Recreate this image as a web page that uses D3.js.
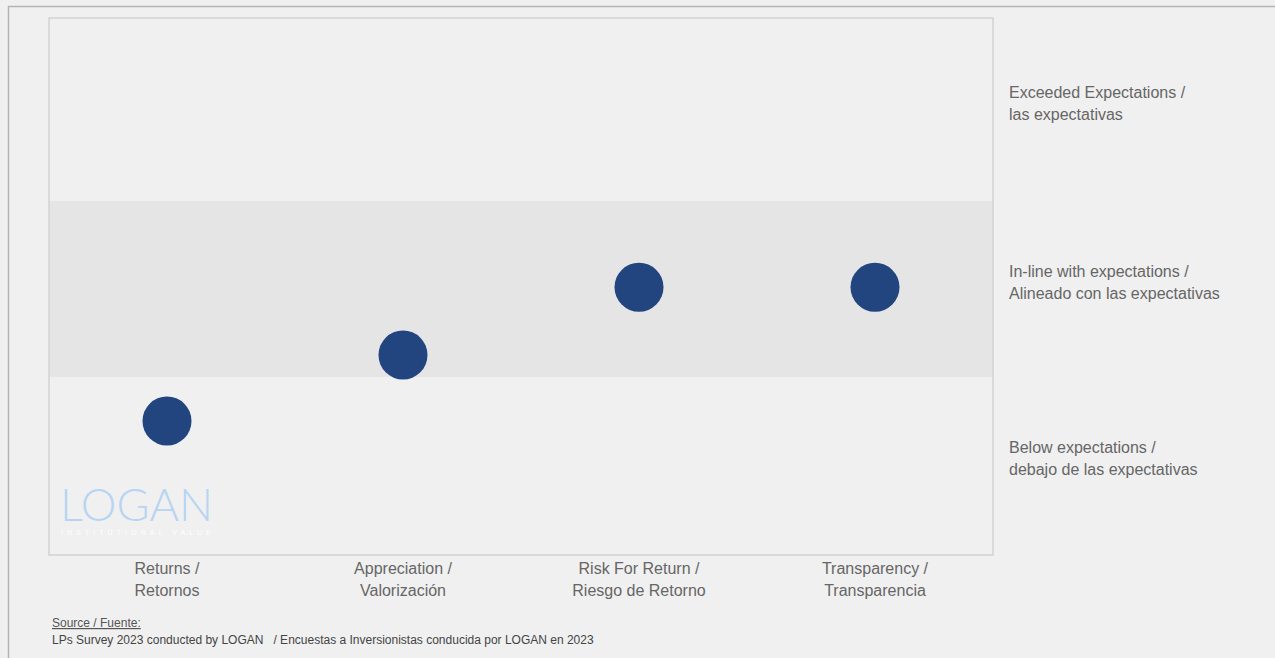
<!DOCTYPE html>
<html>
<head>
<meta charset="utf-8">
<script src="https://cdn.jsdelivr.net/npm/d3@7"></script>
<style>
  body { margin: 0; background: #f0f0f0; }
  svg { display: block; font-family: "Liberation Sans", Arial, sans-serif; }
</style>
</head>
<body>
<div id="chart"></div>
<script>
"use strict";

// categories on the x axis (two lines each)
var categories = ["Returns", "Appreciation", "Risk For Return", "Transparency"];
var categoryLabels = [
  ["Returns /", "Retornos"],
  ["Appreciation /", "Valorización"],
  ["Risk For Return /", "Riesgo de Retorno"],
  ["Transparency /", "Transparencia"]
];
// score: 0-1 below, 1-2 in line, 2-3 exceeded
var scores = [0.75, 1.125, 1.51, 1.51];

// bands (bottom to top)
var bandStarts = [0, 1, 2];
var bandLabels = [
  ["Below expectations /", "debajo de las expectativas"],
  ["In-line with expectations /", "Alineado con las expectativas"],
  ["Exceeded Expectations /", "las expectativas"]
];

var W = 1275, H = 658;
var margin = { top: 18, right: 282, bottom: 103, left: 49 };
var width = W - margin.left - margin.right,
    height = H - margin.top - margin.bottom;

var svg = d3.select("#chart").append("svg")
  .attr("width", W)
  .attr("height", H);

// outer frame
svg.append("line").attr("x1", 8).attr("x2", W).attr("y1", 6.5).attr("y2", 6.5)
  .attr("stroke", "#b4b4b4").attr("stroke-width", 1.5);
svg.append("line").attr("x1", 8.5).attr("x2", 8.5).attr("y1", 6).attr("y2", H)
  .attr("stroke", "#b4b4b4").attr("stroke-width", 1.5);

var g = svg.append("g")
  .attr("transform", "translate(" + margin.left + "," + margin.top + ")");

var x = d3.scalePoint().domain(categories).range([0, width]).padding(0.5);
// middle band edges set the scale; the outer bands run to the frame
var y = d3.scaleLinear().domain([1, 2]).range([359, 183]);

function clampY(v) { return Math.max(0, Math.min(height, y(v))); }

// bands
g.selectAll("rect.band")
  .data(bandStarts)
  .enter().append("rect")
  .attr("class", "band")
  .attr("x", 0)
  .attr("width", width)
  .attr("y", function (d) { return clampY(d === 2 ? 99 : d + 1); })
  .attr("height", function (d) {
    return clampY(d === 0 ? -99 : d) - clampY(d === 2 ? 99 : d + 1);
  })
  .attr("fill", function (d, i) { return i === 1 ? "#e5e5e5" : "#f0f0f0"; });

// logo
var logo = g.append("g").attr("transform", "translate(11," + (height - 34) + ")");
logo.append("text")
  .attr("x", 0).attr("y", 0)
  .attr("font-family", "Lato, 'Open Sans', sans-serif")
  .attr("font-weight", 300)
  .attr("font-size", 46)
  .attr("textLength", 153)
  .attr("lengthAdjust", "spacingAndGlyphs")
  .attr("fill", "#b7d4f3")
  .text("LOGAN");
logo.append("text")
  .attr("x", 1).attr("y", 14)
  .attr("font-size", 7)
  .attr("textLength", 150)
  .attr("fill", "#ffffff")
  .text("INSTITUTIONAL VALUE");

// plot frame
g.append("rect")
  .attr("x", 0).attr("y", 0)
  .attr("width", width).attr("height", height)
  .attr("fill", "none")
  .attr("stroke", "#d2d2d2")
  .attr("stroke-width", 1.5);

// dots
g.selectAll("circle.dot")
  .data(categories)
  .enter().append("circle")
  .attr("class", "dot")
  .attr("cx", function (d) { return x(d); })
  .attr("cy", function (d, i) { return y(scores[i]); })
  .attr("r", 24.5)
  .attr("fill", "#23457f");

// x labels
var xl = g.selectAll("text.xlab")
  .data(categories)
  .enter().append("text")
  .attr("class", "xlab")
  .attr("text-anchor", "middle")
  .attr("font-size", 16)
  .attr("fill", "#666");
xl.selectAll("tspan")
  .data(function (d, i) {
    return categoryLabels[i].map(function (t) { return { c: d, t: t }; });
  })
  .enter().append("tspan")
  .attr("x", function (d) { return x(d.c); })
  .attr("y", function (d, j) { return height + 19 + j * 22; })
  .text(function (d) { return d.t; });

// band labels on the right, centred a little above each band's middle
var bandMid = [0.5 * (clampY(0) + clampY(1)), 0.5 * (clampY(1) + clampY(2)), 0.5 * (clampY(2) + clampY(99))];
var bl = g.selectAll("text.blab")
  .data(bandStarts)
  .enter().append("text")
  .attr("class", "blab")
  .attr("font-size", 16)
  .attr("fill", "#666");
bl.selectAll("tspan")
  .data(function (d, i) {
    return bandLabels[i].map(function (t) { return { b: d, t: t }; });
  })
  .enter().append("tspan")
  .attr("x", width + 16)
  .attr("y", function (d, j) { return bandMid[d.b] - 12 + j * 22; })
  .text(function (d) { return d.t; });

// source
svg.append("text")
  .attr("x", 52).attr("y", 627)
  .attr("font-size", 12)
  .attr("fill", "#555")
  .attr("text-decoration", "underline")
  .text("Source / Fuente:");
svg.append("text")
  .attr("x", 52).attr("y", 644)
  .attr("font-size", 12)
  .attr("fill", "#444")
  .attr("xml:space", "preserve")
  .style("white-space", "pre")
  .text("LPs Survey 2023 conducted by LOGAN   / Encuestas a Inversionistas conducida por LOGAN en 2023");
</script>
</body>
</html>
